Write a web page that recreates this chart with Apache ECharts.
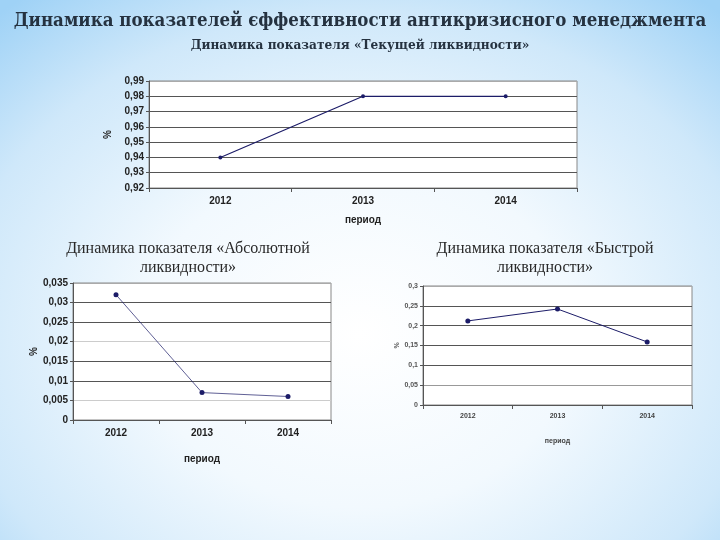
<!DOCTYPE html>
<html>
<head>
<meta charset="utf-8">
<script src="https://cdn.jsdelivr.net/npm/echarts@6/dist/echarts.min.js"></script>
<style>
html,body{margin:0;padding:0;width:720px;height:540px;overflow:hidden;}
body{background:radial-gradient(ellipse 75% 80% at 50% 62%, #ffffff 0%, #f2f9fe 40%, #cfe8fa 75%, #9fd2f6 100%);}
#c{width:720px;height:540px;}
</style>
</head>
<body>
<div id="c"></div>
<script>
var categories = ['2012', '2013', '2014'];
var currentLiquidity = [0.94, 0.98, 0.98];
var absoluteLiquidity = [0.032, 0.007, 0.006];
var quickLiquidity = [0.212, 0.242, 0.159];

var mainTitle = 'Динамика показателей єффективности антикризисного менеджмента';
var topTitle = 'Динамика показателя «Текущей ликвидности»';
var leftTitle = 'Динамика показателя «Абсолютной\nликвидности»';
var rightTitle = 'Динамика показателя «Быстрой\nликвидности»';
var xName = 'период';
var yName = '%';

var lineColor = '#1c1c68';
function fmt(v){ return String(+v.toFixed(4)).replace('.', ','); }

var chart = echarts.init(document.getElementById('c'));
function xAxis(idx, fs, gap, color){
  return {
    type:'category', gridIndex: idx, data: categories, boundaryGap:true,
    axisLine:{lineStyle:{color:'#555', width:1}},
    axisTick:{show:true, length:4, lineStyle:{color:'#555'}},
    axisLabel:{fontFamily:'Liberation Sans', fontWeight:'bold', fontSize:fs, color:color, margin:8},
    name: xName, nameLocation:'middle', nameGap: gap,
    nameTextStyle:{fontFamily:'Liberation Sans', fontWeight:'bold', fontSize:fs, color:color}
  };
}
function yAxis(idx, min, max, interval, fs, color, gridColors, nameGap){
  return {
    type:'value', gridIndex: idx, min:min, max:max, interval:interval,
    axisLine:{show:true, lineStyle:{color:'#555', width:1}},
    axisTick:{show:true, length:3, lineStyle:{color:'#555'}},
    axisLabel:{fontFamily:'Liberation Sans', fontWeight:'bold', fontSize:fs, color:color, margin:5, formatter: fmt},
    splitLine:{show:true, lineStyle:{color:gridColors, width:1}},
    name: yName, nameLocation:'middle', nameGap: nameGap, nameRotate: 90,
    nameTextStyle:{fontFamily:'Liberation Sans', fontWeight:'bold', fontSize:fs, color:color}
  };
}
chart.setOption({
  animation:false,
  title:[
    {text: mainTitle, left:'center', top:7, textStyle:{fontFamily:'DejaVu Serif Condensed, DejaVu Serif', fontWeight:'bold', fontSize:18.5, color:'#253240'}},
    {text: topTitle, left:'center', top:33, textStyle:{fontFamily:'DejaVu Serif Condensed, DejaVu Serif', fontWeight:'bold', fontSize:13.5, color:'#253240'}},
    {text: leftTitle, left:183, textAlign:'center', top:234, textStyle:{fontFamily:'Liberation Serif', fontWeight:'normal', fontSize:16, lineHeight:19, color:'#2a2a2a'}},
    {text: rightTitle, left:540, textAlign:'center', top:234, textStyle:{fontFamily:'Liberation Serif', fontWeight:'normal', fontSize:16, lineHeight:19, color:'#2a2a2a'}}
  ],
  grid:[
    {left:149, top:81, width:428, height:107, show:true, backgroundColor:'#ffffff', borderColor:'#888', borderWidth:1},
    {left:73, top:283, width:258, height:137, show:true, backgroundColor:'#ffffff', borderColor:'#888', borderWidth:1},
    {left:423, top:286, width:269, height:119, show:true, backgroundColor:'#ffffff', borderColor:'#888', borderWidth:1}
  ],
  xAxis:[
    xAxis(0, 10, 27, '#222'),
    xAxis(1, 10, 34, '#222'),
    xAxis(2, 7, 33, '#444')
  ],
  yAxis:[
    yAxis(0, 0.92, 0.99, 0.01, 10, '#222', ['#555','#555','#555','#555','#555','#555','#555','#aaa'], 36),
    yAxis(1, 0, 0.035, 0.005, 10, '#222', ['#555','#ccc','#555','#555','#ccc','#555','#555','#aaa'], 33),
    yAxis(2, 0, 0.3, 0.05, 7, '#555', ['#555','#999','#555','#555','#555','#555','#aaa'], 17)
  ],
  series:[
    {type:'line', xAxisIndex:0, yAxisIndex:0, data: currentLiquidity, symbol:'circle', symbolSize:4, lineStyle:{color:lineColor, width:1.2}, itemStyle:{color:lineColor}},
    {type:'line', xAxisIndex:1, yAxisIndex:1, data: absoluteLiquidity, symbol:'circle', symbolSize:5, lineStyle:{color:lineColor, width:1, opacity:0.7}, itemStyle:{color:lineColor}},
    {type:'line', xAxisIndex:2, yAxisIndex:2, data: quickLiquidity, symbol:'circle', symbolSize:5, lineStyle:{color:lineColor, width:1}, itemStyle:{color:lineColor}}
  ]
});
</script>
</body>
</html>
